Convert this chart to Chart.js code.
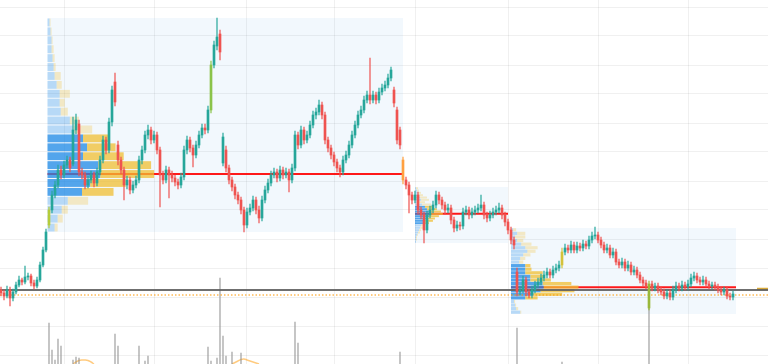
<!DOCTYPE html>
<html>
<head>
<meta charset="utf-8">
<script src="https://cdn.jsdelivr.net/npm/chart.js@4.4.1/dist/chart.umd.min.js"></script>
<style>
  html, body { margin: 0; padding: 0; background: #fff; }
  #wrap { width: 768px; height: 364px; position: relative; }
</style>
</head>
<body>
<div id="wrap"><canvas id="priceChart"></canvas></div>
<script>
// candles, one per bar index (x = bar number)
const opens = [
  74, 71, 68, 74, 66, 72, 79, 84, 82, 87,
  88, 81, 78, 84, 99, 114, 139, 154, 169, 179,
  194, 189, 199, 204, 200, 234, 240, 192, 189, 179,
  184, 189, 181, 192, 204, 224, 214, 242, 282, 219,
  204, 194, 179, 184, 174, 179, 184, 204, 214, 229,
  234, 224, 229, 214, 189, 184, 194, 189, 186, 182,
  179, 187, 214, 224, 216, 209, 219, 229, 236, 234,
  254, 299, 318, 330, 201, 214, 196, 184, 177, 169,
  164, 154, 139, 152, 156, 164, 154, 146, 164, 174,
  181, 189, 192, 186, 194, 189, 192, 184, 196, 229,
  219, 234, 224, 229, 239, 249, 252, 259, 249, 224,
  216, 209, 202, 196, 192, 204, 209, 219, 229, 239,
  249, 254, 264, 269, 264, 269, 264, 272, 276, 279,
  286, 274, 254, 234, 204, 184, 179, 169, 164, 169,
  154, 149, 134, 149, 154, 159, 169, 164, 159, 154,
  156, 144, 136, 139, 138, 152, 154, 149, 152, 154,
  156, 159, 149, 146, 149, 152, 154, 156, 149, 142,
  134, 124, 92, 72, 74, 84, 72, 69, 74, 79,
  82, 86, 89, 92, 89, 94, 96, 99, 112, 116,
  114, 119, 114, 118, 116, 120, 118, 124, 128, 129,
  124, 119, 114, 116, 109, 112, 102, 99, 102, 96,
  99, 92, 94, 89, 84, 81, 56, 80, 76, 78,
  74, 72, 68, 71, 67, 74, 78, 76, 79, 77,
  80, 86, 88, 84, 82, 84, 80, 78, 79, 77,
  74, 72, 74, 68, 67
];
const highs = [
  77, 74, 78, 77, 75, 82, 88, 86, 98, 91,
  90, 84, 87, 102, 117, 135, 157, 173, 183, 199,
  198, 203, 208, 207, 247, 250, 244, 196, 192, 188,
  193, 192, 196, 208, 228, 227, 246, 278, 291, 223,
  207, 197, 188, 187, 183, 188, 208, 218, 233, 239,
  237, 233, 232, 217, 193, 198, 197, 193, 189, 185,
  191, 218, 228, 227, 219, 223, 233, 240, 240, 258,
  303, 323, 346, 334, 231, 218, 199, 187, 180, 172,
  167, 157, 156, 160, 168, 167, 158, 168, 178, 185,
  193, 196, 195, 198, 197, 196, 195, 200, 233, 232,
  238, 237, 233, 243, 253, 256, 264, 262, 252, 227,
  219, 212, 205, 199, 208, 213, 223, 233, 243, 253,
  258, 268, 273, 306, 273, 272, 276, 280, 283, 290,
  297, 277, 257, 237, 207, 187, 182, 172, 173, 172,
  157, 152, 153, 158, 163, 173, 172, 167, 162, 160,
  159, 147, 143, 142, 156, 158, 157, 156, 158, 160,
  169, 162, 152, 153, 156, 158, 161, 159, 152, 145,
  137, 127, 96, 78, 88, 87, 75, 78, 83, 86,
  90, 93, 96, 95, 98, 100, 103, 116, 120, 119,
  123, 122, 122, 121, 124, 123, 128, 132, 137, 132,
  127, 122, 120, 119, 116, 115, 105, 106, 105, 103,
  102, 98, 97, 92, 87, 84, 83, 83, 81, 81,
  77, 75, 74, 74, 78, 82, 81, 83, 82, 84,
  90, 92, 91, 87, 88, 87, 83, 82, 82, 80,
  77, 77, 77, 71, 73
];
const lows = [
  68, 64, 66, 58, 63, 70, 77, 79, 80, 84,
  78, 75, 76, 82, 97, 112, 136, 151, 166, 176,
  185, 186, 196, 192, 198, 230, 188, 185, 175, 176,
  181, 177, 178, 189, 201, 210, 211, 238, 258, 199,
  190, 164, 175, 170, 171, 176, 181, 200, 211, 225,
  220, 221, 210, 157, 180, 181, 166, 182, 178, 175,
  176, 184, 210, 212, 197, 206, 216, 226, 230, 231,
  251, 296, 314, 304, 198, 192, 180, 173, 165, 160,
  150, 132, 136, 149, 153, 150, 141, 143, 161, 171,
  178, 186, 182, 183, 185, 186, 172, 181, 193, 215,
  216, 220, 221, 226, 236, 245, 249, 245, 220, 212,
  205, 198, 192, 187, 189, 201, 206, 216, 226, 236,
  246, 251, 261, 260, 261, 260, 261, 269, 273, 276,
  283, 257, 220, 215, 180, 175, 151, 160, 161, 150,
  145, 121, 131, 146, 151, 156, 160, 155, 150, 151,
  140, 132, 133, 134, 135, 149, 145, 146, 149, 151,
  153, 145, 142, 143, 146, 149, 151, 145, 138, 130,
  120, 115, 68, 69, 71, 68, 66, 66, 71, 76,
  79, 83, 86, 86, 86, 91, 93, 96, 109, 111,
  111, 111, 111, 113, 113, 115, 115, 121, 125, 121,
  116, 111, 111, 106, 106, 99, 96, 96, 93, 93,
  89, 89, 86, 81, 78, 75, 54, 73, 73, 71,
  69, 65, 65, 64, 64, 71, 73, 73, 74, 74,
  77, 83, 81, 79, 79, 77, 75, 75, 74, 71,
  69, 69, 65, 64, 64
];
const closes = [
  71, 68, 74, 66, 72, 79, 84, 82, 87, 88,
  81, 78, 84, 99, 114, 132, 154, 169, 179, 194,
  189, 199, 204, 196, 234, 244, 192, 189, 179, 184,
  189, 181, 192, 204, 224, 214, 242, 274, 262, 204,
  194, 179, 184, 174, 179, 184, 204, 214, 229, 234,
  224, 229, 214, 189, 184, 194, 189, 186, 182, 179,
  187, 214, 224, 216, 209, 219, 229, 236, 234, 254,
  299, 319, 327, 312, 227, 196, 184, 177, 169, 164,
  154, 139, 152, 156, 164, 154, 146, 164, 174, 181,
  189, 192, 186, 194, 189, 192, 184, 196, 229, 219,
  234, 224, 229, 239, 249, 252, 259, 249, 224, 216,
  209, 202, 196, 192, 204, 209, 219, 229, 239, 249,
  254, 264, 269, 264, 269, 264, 272, 276, 279, 286,
  294, 261, 224, 219, 184, 179, 169, 164, 169, 154,
  149, 134, 149, 154, 159, 169, 164, 159, 154, 156,
  144, 136, 139, 138, 152, 154, 149, 152, 154, 156,
  159, 149, 146, 149, 152, 154, 156, 149, 142, 134,
  124, 119, 72, 74, 84, 72, 69, 74, 79, 82,
  86, 89, 92, 89, 94, 96, 99, 112, 116, 114,
  119, 114, 118, 116, 120, 118, 124, 128, 129, 124,
  119, 114, 116, 109, 112, 102, 99, 102, 96, 99,
  92, 94, 89, 84, 81, 78, 80, 76, 78, 74,
  72, 68, 71, 67, 74, 78, 76, 79, 77, 80,
  86, 88, 84, 82, 84, 80, 78, 79, 77, 74,
  72, 74, 68, 67, 70
];

// bars painted by the signal indicator
const accentIdx = [16, 70, 134, 187, 216];
const accentColor = ["#b5cc3a", "#8bc34a", "#ffa040", "#d4c23a", "#9ab83a"];

// volume spikes that reach into view (bar index, volume)
const volIdx = [16, 17, 18, 19, 20, 24, 25, 26, 38, 39, 46, 48, 49, 69, 70, 72, 73, 74, 75, 77, 80, 98, 99, 133, 172, 187, 216];
const volVal = [97, 70, 60, 81, 74, 60, 63, 62, 86, 74, 74, 59, 64, 73, 59, 62, 142, 84, 64, 68, 67, 98, 77, 68, 92, 58, 120];
// volume moving average, visible stretches
const volMaIdx = [24, 25, 26, 27, 28, 29, 30, 31, null, 77, 78, 79, 80, 81, 82, 83, 84, 85, 86];
const volMaVal = [56, 58, 59.5, 60, 60, 59.5, 58, 56, null, 56, 57.5, 59, 60.5, 61, 60, 59, 58, 57, 56];

// session volume profiles
const boxFrom = [15.5, 138, 170];
const boxTo = [134, 169, 245];
const boxHigh = [346, 177, 136];
const boxLow = [132, 121, 50];
const vaFirst = [13, 8, 10];
const vaLast = [19, 15, 19];
// rows listed from the top of the box down
const profUp = [
  [2, 3, 4, 4, 5, 6, 7, 9, 12, 12, 13, 22, 25, 35, 39, 35, 50, 52, 42, 34, 20, 14, 10, 7],
  [1, 2, 3, 4, 5, 6, 4, 7, 10, 12, 14, 16, 14, 11, 10, 8, 6, 5, 4, 3, 2, 1, 1, 1],
  [2, 6, 4, 6, 10, 14, 16, 12, 9, 8, 14, 14, 14, 19, 19, 31, 32, 29, 22, 14, 3, 4, 5, 9]
];
const profDown = [
  [1, 1, 1, 2, 2, 2, 6, 5, 10, 5, 7, 9, 19, 25, 28, 40, 52, 53, 35, 31, 20, 6, 5, 3],
  [2, 2, 3, 4, 7, 8, 6, 9, 8, 10, 12, 12, 10, 9, 8, 6, 4, 3, 2, 2, 1, 1, 1, 0],
  [3, 8, 10, 6, 10, 12, 8, 7, 5, 4, 5, 6, 17, 13, 20, 28, 34, 33, 28, 12, 1, 1, 2, 1]
];

const refLevel = 74;
const lastPrice = 69;
const tagLevel = 75;
const tagFrom = 252;
const gridPrices = [9, 38, 67, 96, 125, 154, 183, 212, 241, 270, 299, 328, 357];
const gridBars = [21.3, 51.3, 81.7, 111.3, 138.3, 169.3, 199, 229];

const bull = "#26a69a";
const bear = "#ef5350";
const candleColors = closes.map((c, i) => {
  const a = accentIdx.indexOf(i);
  if (a !== -1) return accentColor[a];
  return c >= opens[i] ? bull : bear;
});
const wickColors = candleColors.map((c) => c + "bb");

const xMin = -1 / 3;
const xMax = 767 / 3;

const profilePlugin = {
  id: "profiles",
  beforeDatasetsDraw(chart) {
    const { ctx, chartArea } = chart;
    const x = chart.scales.x;
    const y = chart.scales.y;
    ctx.save();
    ctx.beginPath();
    ctx.rect(chartArea.left, chartArea.top, chartArea.width, chartArea.height);
    ctx.clip();
    boxFrom.forEach((from, k) => {
      const left = x.getPixelForValue(from);
      const right = x.getPixelForValue(boxTo[k]);
      const top = y.getPixelForValue(boxHigh[k]);
      const bottom = y.getPixelForValue(boxLow[k]);
      ctx.fillStyle = "rgba(30, 136, 229, 0.06)";
      ctx.fillRect(left, top, right - left, bottom - top);

      const up = profUp[k];
      const totals = up.map((u, r) => u + profDown[k][r]);
      const maxVol = Math.max(...totals);
      const poc = totals.indexOf(maxVol);
      const unit = ((boxTo[k] - from) * 0.3) / maxVol;
      const rowH = (bottom - top) / up.length;

      // point of control
      const pocY = top + (poc + 0.5) * rowH;
      ctx.strokeStyle = "rgba(255, 0, 0, 0.9)";
      ctx.lineWidth = 2;
      ctx.beginPath();
      ctx.moveTo(left, pocY);
      ctx.lineTo(right, pocY);
      ctx.stroke();

      const gap = Math.max(0.4, rowH * 0.12);
      up.forEach((u, r) => {
        const inVA = r >= vaFirst[k] && r <= vaLast[k];
        const rowTop = top + r * rowH + gap / 2;
        const upEnd = x.getPixelForValue(from + u * unit);
        const downEnd = x.getPixelForValue(from + totals[r] * unit);
        ctx.fillStyle = inVA ? "rgba(30, 136, 229, 0.75)" : "rgba(30, 136, 229, 0.28)";
        ctx.fillRect(left, rowTop, upEnd - left, rowH - gap);
        ctx.fillStyle = inVA ? "rgba(240, 190, 50, 0.75)" : "rgba(240, 190, 50, 0.28)";
        ctx.fillRect(upEnd, rowTop, downEnd - upEnd, rowH - gap);
      });
    });
    ctx.restore();
  },
};

const ctx = document.getElementById("priceChart").getContext("2d");

new Chart(ctx, {
  type: "bar",
  data: {
    datasets: [
      {
        label: "Body",
        data: closes.map((c, i) => ({ x: i, y: [opens[i], c] })),
        backgroundColor: candleColors,
        barThickness: 2,
        minBarLength: 1,
        grouped: false,
      },
      {
        label: "Wick",
        data: closes.map((c, i) => ({ x: i, y: [lows[i], highs[i]] })),
        backgroundColor: wickColors,
        barThickness: 1,
        grouped: false,
      },
      {
        type: "line",
        label: "Reference",
        data: [{ x: xMin, y: refLevel }, { x: xMax, y: refLevel }],
        borderColor: "rgba(95, 95, 95, 0.9)",
        borderWidth: 2,
        pointRadius: 0,
      },
      {
        type: "line",
        label: "Last",
        data: [{ x: xMin, y: lastPrice }, { x: xMax, y: lastPrice }],
        borderColor: "#ff9800",
        borderWidth: 1.2,
        borderDash: [1.5, 2],
        pointRadius: 0,
      },
      {
        type: "line",
        label: "Tag",
        data: [{ x: tagFrom, y: tagLevel }, { x: xMax, y: tagLevel }],
        borderColor: "#d9aa3a",
        borderWidth: 2.5,
        pointRadius: 0,
      },
      {
        label: "Volume",
        data: volIdx.map((v, i) => ({ x: v, y: volVal[i] })),
        backgroundColor: "rgba(140, 140, 140, 0.6)",
        barThickness: 1,
        grouped: false,
        yAxisID: "yv",
      },
      {
        type: "line",
        label: "Volume MA",
        data: volMaIdx.map((v, i) => (v === null ? { x: null, y: null } : { x: v, y: volMaVal[i] })),
        borderColor: "rgba(255, 152, 0, 0.5)",
        borderWidth: 1.5,
        pointRadius: 0,
        tension: 0.4,
        spanGaps: false,
        yAxisID: "yv",
      },
    ],
  },
  options: {
    responsive: true,
    maintainAspectRatio: false,
    animation: false,
    layout: { padding: 0 },
    plugins: {
      legend: { display: false },
      tooltip: { enabled: false },
    },
    scales: {
      x: {
        type: "linear",
        min: xMin,
        max: xMax,
        offset: false,
        border: { display: false },
        grid: { color: "rgba(0, 0, 0, 0.06)", drawTicks: false, offset: false },
        ticks: { display: false },
        afterBuildTicks: (scale) => {
          scale.ticks = gridBars.map((v) => ({ value: v }));
        },
      },
      y: {
        min: 0,
        max: 364,
        border: { display: false },
        grid: { color: "rgba(0, 0, 0, 0.06)", drawTicks: false },
        ticks: { display: false },
        afterBuildTicks: (scale) => {
          scale.ticks = gridPrices.map((v) => ({ value: v }));
        },
      },
      yv: {
        display: false,
        min: 56,
        max: 420,
      },
    },
  },
  plugins: [profilePlugin],
});
</script>
</body>
</html>
